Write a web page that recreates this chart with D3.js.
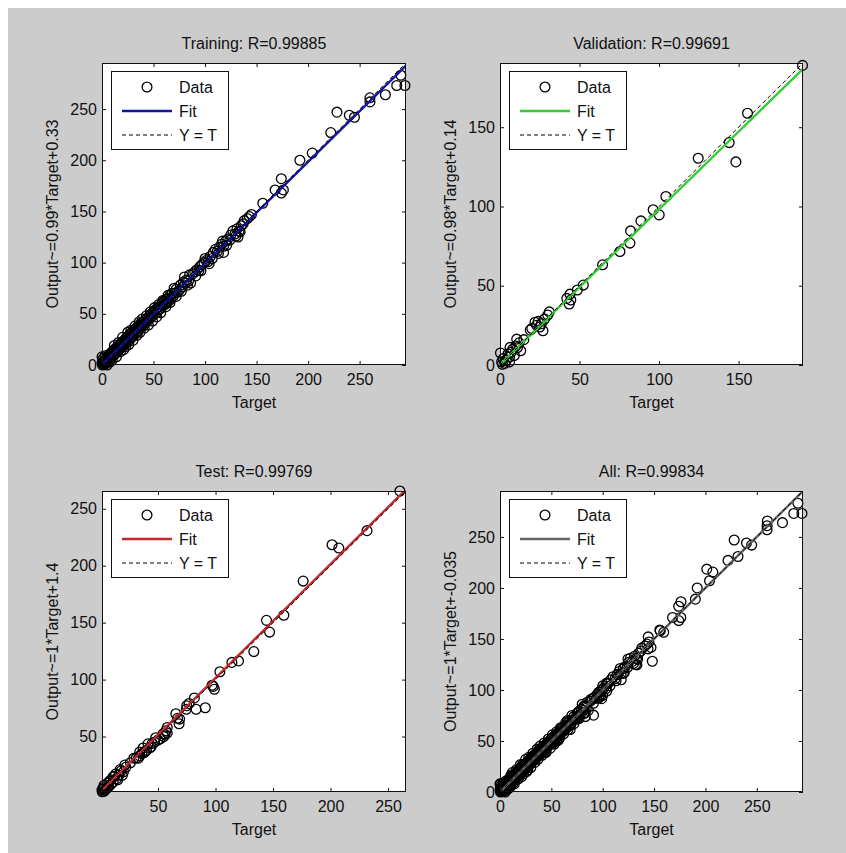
<!DOCTYPE html>
<html>
<head>
<meta charset="utf-8">
<script src="https://cdn.jsdelivr.net/npm/d3@7"></script>
<style>
  html, body { margin: 0; padding: 0; background: #ffffff; }
  svg text { font-family: "Liberation Sans", Arial, sans-serif; fill: #111; }
</style>
</head>
<body>
<script>
// ---------------- DATA ----------------
const panelTitles = ["Training: R=0.99885", "Validation: R=0.99691", "Test: R=0.99769", "All: R=0.99834"];
const yAxisLabels = ["Output~=0.99*Target+0.33", "Output~=0.98*Target+0.14", "Output~=1*Target+1.4", "Output~=1*Target+-0.035"];
const xAxisLabel = "Target";
const legendLabels = ["Data", "Fit", "Y = T"];
const fitSlope = [0.99, 0.98, 1, 1];
const fitIntercept = [0.33, 0.14, 1.4, -0.035];
const axisLimits = [[0, 295], [0, 190.5], [1.3, 265.6], [0, 295]];
const tickValues = [
  [0, 50, 100, 150, 200, 250],
  [0, 50, 100, 150],
  [50, 100, 150, 200, 250],
  [0, 50, 100, 150, 200, 250]
];

// [Target, Output]
const trainingData = [
  [0,2],[0.5,0],[1,3],[1,6],[1.5,1],[2,4],[2,0.5],[2.5,2],[3,5],[3,1],[3.5,3],[4,6],[4,2],[4.5,4],
  [5,8],[5,3],[5.5,5],[6,7],[6,4],[6.5,9],[7,6],[7,10],[7.5,5],[8,8],[8,11],[8.5,7],[9,12],[9,9],
  [9.5,8],[10,13],[10,10],[11,14],[11,11],[12,15],[12,10],[13,13],[13,16],[14,12],[14,17],[15,15],
  [15,18],[16,14],[16,17],[17,19],[17,16],[18,18],[18,21],[19,17],[19,20],[20,23],[20,19],[21,21],
  [22,24],[22,20],[23,26],[23,22],[24,25],[25,28],[25,23],[26,26],[27,30],[27,25],[28,28],[29,32],
  [29,27],[30,30],[31,34],[31,29],[32,33],[33,36],[33,31],[34,35],[35,37],[35,33],[36,36],[37,39],
  [38,37],[38,41],[39,40],[40,42],[40,38],[41,41],[42,44],[43,42],[44,46],[45,44],[46,48],[47,46],
  [48,50],[49,48],[50,52],[51,50],[52,54],[53,51],[54,56],[55,54],[56,57],[57,55],[58,60],[59,58],
  [60,62],[61,59],[62,64],[63,61],[64,65],[65,63],[66,68],[67,65],[68,70],[69,67],[70,70],[72,74],
  [73,71],[75,73],[76,78],[78,76],[79,81],[81,80],[82,83],[84,82],[86,80],[88,89],[90,91],[92,93],
  [94,92],[95,96],[97,98],[99,100],[101,102],[103,101],[105,106],[108,110],[110,113],[112,111],
  [114,115],[116,118],[118,116],[118,110],[120,121],[122,123],[124,122],[127,131],[129,128],
  [131,133],[132,125],[133,131],[135,136],[138,141],[141,143],[143,145],[145,147],[156,158],
  [168,171],[174,182],[174,168],[176,171],[192,200],[204,207],[222,227],[228,247],[240,244],
  [245,242],[260,261],[260,257],[275,264],[286,273],[294,273],[290,283],
  [0,8],[3,9],[5,0],[8,3],[10,5],[12,19],[14,8],[16,22],[18,13],[20,27],[21,15],[23,18],[25,32],
  [26,20],[28,34],[30,24],[32,38],[34,29],[36,42],[37,32],[39,45],[41,36],[43,48],[45,39],[47,52],
  [49,43],[51,56],[53,47],[55,59],[57,51],[59,63],[62,57],[64,68],[66,61],[70,75],[72,67],[77,72],
  [80,86],[83,78],[85,88],[91,87],[96,92],[100,104],[104,99],[107,104],[113,109],[117,121],
  [121,117],[125,127],[130,126],[134,130],[137,138]
];
const validationData = [
  [190.2,189],[155.6,158.8],[144.1,140.3],[148.3,128.1],[124.6,130.4],[104.3,106.3],[96.3,97.9],
  [100.1,94.7],[88.6,90.9],[82.1,84.6],[81.7,76.9],[75.4,71.6],[64.5,63.2],[52.4,50.4],[48.6,47.3],
  [44,44.7],[42,42],[43.5,38.5],[44.5,41],[31,33.5],[30,31.5],[28,29],[26,26],[25,24],[27,21.6],
  [23,25],[24,27.5],[22,27],[20,23],[19,22],[15,16],[12,14],[10.5,16.3],[11,11],[13,9],[10,12],
  [8,10],[6.3,11.1],[7,8],[6,5],[5,7],[4,3],[3,1],[2,4],[1,2],[0.3,7.6],[1.5,0.5],[6,2],[9,6]
];
const testData = [
  [260.3,265.6],[231.7,230.8],[201.3,218.4],[207.2,215.5],[176.2,186.5],[144.3,152],[147,141.7],
  [159.4,156.5],[133.3,124.6],[120,116.4],[114.2,115.1],[103.8,106.9],[97,95],[99,91.5],[98,94],
  [91.1,75.3],[81.6,83.9],[83.1,73.9],[75,77],[77,79],[74.6,73.9],[68.3,61.2],[67,66],[65.5,70],
  [68.8,65.3],[58,58],[56,52],[57,55],[54.3,52.3],[52,48],[50,47],[47,45],[45,44],[41.3,43.6],
  [43,40],[40,38],[38,36],[34.1,36.4],[36,35],[34,33],[31,31],[22,23],[21.1,24.9],[20,19],[18,20],
  [16,16],[14,13],[11,14.7],[12,15],[11,10],[9,8],[8,11],[7,6],[6,5],[5,4],[4,3],[3,2],[2,4],
  [1.5,1.5],[2.5,5],[1.3,3.2],[3,7],[6,9],[9,12],[13,17],[15,12],[17,21],[19,16],[26,27],[29,31],
  [33,31],[37,40],[39,37],[44,41],[48,49],[55,50],[58,53]
];
const allData = trainingData.concat(validationData, testData);
const panelData = [trainingData, validationData, testData, allData];

// ---------------- LAYOUT / STYLE ----------------
const W = 846, H = 853;
const boxes = [
  {l: 102, r: 406, t: 63, b: 365},
  {l: 500, r: 803, t: 63, b: 365},
  {l: 102, r: 406, t: 491, b: 792},
  {l: 500, r: 803, t: 491, b: 792}
];
const fitColors = ["#1414a0", "#35cc35", "#c02a2e", "#646464"];
const FONT = 16;
const R = 4.9;

const svg = d3.select("body").append("svg")
  .attr("width", W).attr("height", H)
  .attr("viewBox", `0 0 ${W} ${H}`);

svg.append("rect").attr("x", 0).attr("y", 0).attr("width", W).attr("height", H).attr("fill", "#ffffff");
svg.append("rect").attr("x", 8).attr("y", 8).attr("width", W - 8).attr("height", H - 8).attr("fill", "#cccccc");

const defs = svg.append("defs");

boxes.forEach((bx, i) => {
  const dom = axisLimits[i];
  const x = d3.scaleLinear().domain(dom).range([bx.l, bx.r]);
  const y = d3.scaleLinear().domain(dom).range([bx.b, bx.t]);
  const g = svg.append("g");

  g.append("rect").attr("x", bx.l).attr("y", bx.t)
    .attr("width", bx.r - bx.l).attr("height", bx.b - bx.t).attr("fill", "#ffffff");

  defs.append("clipPath").attr("id", "clip" + i)
    .append("rect").attr("x", bx.l).attr("y", bx.t)
    .attr("width", bx.r - bx.l).attr("height", bx.b - bx.t);

  const styleAxis = sel => {
    sel.select(".domain").remove();
    sel.selectAll(".tick line").attr("stroke", "#111").attr("stroke-width", 1);
    sel.selectAll(".tick text").attr("font-size", FONT).attr("fill", "#111")
      .attr("font-family", "'Liberation Sans', Arial, sans-serif");
  };
  g.append("g").attr("transform", `translate(0,${bx.b})`)
    .call(d3.axisBottom(x).tickValues(tickValues[i]).tickFormat(d3.format("d"))
      .tickSizeInner(-4).tickSizeOuter(0).tickPadding(9))
    .call(styleAxis);
  g.append("g").attr("transform", `translate(0,${bx.t})`)
    .call(d3.axisTop(x).tickValues(tickValues[i]).tickFormat("")
      .tickSizeInner(-4).tickSizeOuter(0))
    .call(styleAxis);
  g.append("g").attr("transform", `translate(${bx.l},0)`)
    .call(d3.axisLeft(y).tickValues(tickValues[i]).tickFormat(d3.format("d"))
      .tickSizeInner(-4).tickSizeOuter(0).tickPadding(5))
    .call(styleAxis);
  g.append("g").attr("transform", `translate(${bx.r},0)`)
    .call(d3.axisRight(y).tickValues(tickValues[i]).tickFormat("")
      .tickSizeInner(-4).tickSizeOuter(0))
    .call(styleAxis);

  g.append("g").selectAll("circle").data(panelData[i]).join("circle")
    .attr("cx", d => x(d[0])).attr("cy", d => y(d[1]))
    .attr("r", R).attr("fill", "none").attr("stroke", "#000").attr("stroke-width", 1.3);

  const lineGen = d3.line().x(d => x(d[0])).y(d => y(d[1]));
  const fitPts = dom.map(t => [t, fitSlope[i] * t + fitIntercept[i]]);
  g.append("path").attr("d", lineGen(fitPts))
    .attr("clip-path", `url(#clip${i})`)
    .attr("fill", "none").attr("stroke", fitColors[i]).attr("stroke-width", 2.4);

  g.append("path").attr("d", lineGen(dom.map(t => [t, t])))
    .attr("clip-path", `url(#clip${i})`)
    .attr("fill", "none").attr("stroke", "#000").attr("stroke-width", 1)
    .attr("stroke-dasharray", "4,3");

  g.append("rect").attr("x", bx.l + 0.5).attr("y", bx.t + 0.5)
    .attr("width", bx.r - bx.l - 1).attr("height", bx.b - bx.t - 1)
    .attr("fill", "none").attr("stroke", "#111").attr("stroke-width", 1);

  g.append("text").attr("x", (bx.l + bx.r) / 2).attr("y", bx.t - 14)
    .attr("text-anchor", "middle").attr("font-size", FONT).text(panelTitles[i]);

  g.append("text").attr("x", (bx.l + bx.r) / 2).attr("y", bx.b + 43)
    .attr("text-anchor", "middle").attr("font-size", FONT).text(xAxisLabel);

  g.append("text")
    .attr("transform", `translate(${bx.l - 50},${(bx.t + bx.b) / 2}) rotate(-90)`)
    .attr("text-anchor", "middle").attr("dy", "0.35em")
    .attr("font-size", FONT).text(yAxisLabels[i]);

  const lx = bx.l + 9, ly = bx.t + 8, lw = 117, lh = 78;
  const lg = g.append("g");
  lg.append("rect").attr("x", lx + 0.5).attr("y", ly + 0.5).attr("width", lw).attr("height", lh)
    .attr("fill", "#ffffff").attr("stroke", "#111").attr("stroke-width", 1);
  const rowY = [ly + 16, ly + 40, ly + 64];
  lg.append("circle").attr("cx", lx + 36).attr("cy", rowY[0]).attr("r", R)
    .attr("fill", "none").attr("stroke", "#000").attr("stroke-width", 1.3);
  lg.append("line").attr("x1", lx + 11).attr("x2", lx + 61).attr("y1", rowY[1]).attr("y2", rowY[1])
    .attr("stroke", fitColors[i]).attr("stroke-width", 2.4);
  lg.append("line").attr("x1", lx + 11).attr("x2", lx + 61).attr("y1", rowY[2]).attr("y2", rowY[2])
    .attr("stroke", "#000").attr("stroke-width", 1).attr("stroke-dasharray", "4,3");
  legendLabels.forEach((lab, k) => {
    lg.append("text").attr("x", lx + 68).attr("y", rowY[k]).attr("dy", "0.36em")
      .attr("font-size", FONT).text(lab);
  });
});
</script>
</body>
</html>
